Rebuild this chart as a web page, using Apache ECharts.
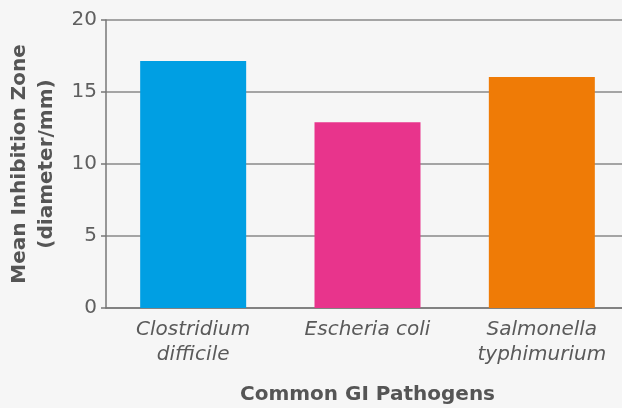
<!DOCTYPE html>
<html lang="en">
<head>
    <meta charset="UTF-8">
    <title>Mean Inhibition Zone</title>
    <script src="https://cdn.jsdelivr.net/npm/echarts@6/dist/echarts.min.js"></script>
    <style>
        * { margin: 0; padding: 0; }
        body { background: #f6f6f6; }
        #chart { width: 622px; height: 408px; }
    </style>
</head>
<body>
    <div id="chart"></div>
    <script>
        const pathogens = ['Clostridium\ndifficile', 'Escheria coli', 'Salmonella\ntyphimurium']
        const zoneValues = [17.15, 12.9, 16.05]
        const barColors = ['#009fe3', '#e8348c', '#ef7b06']

        const chart = echarts.init(document.getElementById('chart'))

        const option = {
            backgroundColor: '#f6f6f6',
            textStyle: { fontFamily: 'DejaVu Sans' },
            grid: { left: 106, right: -7, top: 20, bottom: 100, outerBoundsMode: 'none', containLabel: false },
            xAxis: {
                type: 'category',
                data: pathogens,
                name: 'Common GI Pathogens',
                nameLocation: 'middle',
                nameGap: 77,
                nameTextStyle: { fontSize: 20, fontWeight: 'bold', color: '#555' },
                axisLine: { lineStyle: { color: '#777', width: 1.5 } },
                axisTick: { length: 7, lineStyle: { color: '#777', width: 1.5 } },
                axisLabel: {
                    fontSize: 20, fontStyle: 'italic', color: '#5a5a5a',
                    lineHeight: 25, margin: 9
                }
            },
            yAxis: {
                type: 'value',
                min: 0, max: 20, interval: 5,
                name: 'Mean Inhibition Zone\n(diameter/mm)',
                nameLocation: 'middle',
                nameGap: 43,
                nameTextStyle: { fontSize: 20, fontWeight: 'bold', color: '#555', lineHeight: 27 },
                axisLine: { show: true, lineStyle: { color: '#777', width: 1.5 } },
                axisTick: { show: true, length: 5, lineStyle: { color: '#777', width: 1.5 } },
                axisLabel: { fontSize: 20, color: '#5f5f5f', margin: 9 },
                splitLine: { lineStyle: { color: '#888', width: 1.5 } }
            },
            series: [{
                type: 'bar',
                barWidth: 106,
                data: zoneValues.map((v, i) => ({ value: v, itemStyle: { color: barColors[i] } }))
            }]
        }
        chart.setOption(option)
    </script>
</body>
</html>
